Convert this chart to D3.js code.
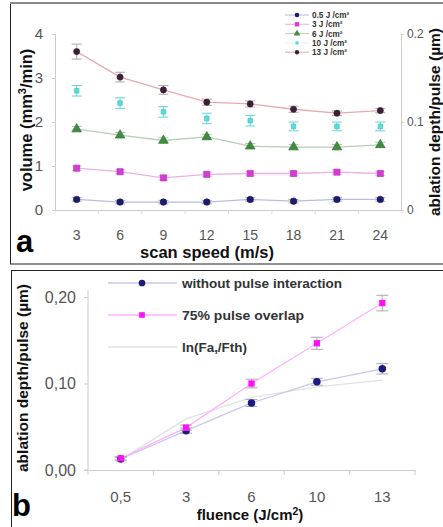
<!DOCTYPE html>
<html><head><meta charset="utf-8">
<script src="https://cdn.jsdelivr.net/npm/d3@7"></script>
<style>body{margin:0;background:#fff}svg{display:block}text{font-family:Arial,"Liberation Sans",Helvetica,sans-serif}</style>
</head><body><svg id="c" width="443" height="527"></svg>
<script>
// ---------- Panel a data ----------
const speeds = [3, 6, 9, 12, 15, 18, 21, 24];
const seriesA = ["0.5 J /cm²", "3 J /cm²", "6 J /cm²", "10 J /cm²", "13 J /cm²"];
const vol05 = [0.24, 0.18, 0.18, 0.18, 0.24, 0.2, 0.24, 0.24];
const vol3  = [0.95, 0.87, 0.73, 0.81, 0.83, 0.83, 0.86, 0.83];
const vol6  = [1.84, 1.70, 1.58, 1.66, 1.45, 1.43, 1.43, 1.48];
const vol10 = [2.71, 2.43, 2.23, 2.08, 2.03, 1.90, 1.90, 1.90];
const vol13 = [3.60, 3.02, 2.73, 2.45, 2.41, 2.29, 2.20, 2.26];
const err05 = [0.04, 0.04, 0.04, 0.04, 0.04, 0.04, 0.04, 0.04];
const err3  = [0.05, 0.05, 0.05, 0.05, 0.05, 0.05, 0.05, 0.05];
const err6  = [0.06, 0.06, 0.06, 0.06, 0.06, 0.06, 0.06, 0.06];
const err10 = [0.12, 0.12, 0.12, 0.12, 0.12, 0.10, 0.10, 0.10];
const err13 = [0.17, 0.11, 0.10, 0.07, 0.07, 0.07, 0.05, 0.05];
const leftTicksA = [0, 1, 2, 3, 4];
const rightTicksA = [0, 0.1, 0.2];
const rightTickLabelsA = ["0", "0.1", "0.2"];

// ---------- Panel b data ----------
const fluences = ["0,5", "3", "6", "10", "13"];
const seriesB = ["without pulse interaction", "75% pulse overlap", "ln(Fa,/Fth)"];
const depthNo = [0.0127, 0.0455, 0.0775, 0.102, 0.117];
const depth75 = [0.0135, 0.049, 0.100, 0.1465, 0.193];
const depthLn = [0.012, 0.059, 0.084, 0.096, 0.104];
const errNo = [0.002, 0.003, 0.004, 0.004, 0.006];
const err75 = [0.002, 0.003, 0.005, 0.007, 0.009];
const ticksB = [0, 0.1, 0.2];
const tickLabelsB = ["0,00", "0,10", "0,20"];

const svg = d3.select("#c");

// ---------- frames ----------
svg.append("rect").attr("x", 10.5).attr("y", 3.5).attr("width", 440).attr("height", 260.5)
  .attr("fill", "none").attr("stroke", "#222").attr("stroke-width", 1);
svg.append("line").attr("x1", 10).attr("x2", 443).attr("y1", 3).attr("y2", 3).attr("stroke", "#888").attr("stroke-width", 2);
svg.append("rect").attr("x", 11.5).attr("y", 270.5).attr("width", 440).attr("height", 270)
  .attr("fill", "none").attr("stroke", "#222").attr("stroke-width", 1);

// ================= Panel a =================
const xa = d3.scaleBand().domain(speeds).range([55, 402]);
const ya = d3.scaleLinear().domain([0, 4]).range([210, 34]);
const yaR = d3.scaleLinear().domain([0, 0.2]).range([210, 34]);
const ga = svg.append("g");

const axL = ga.append("g").attr("transform", "translate(55,0)")
  .call(d3.axisLeft(ya).tickValues(leftTicksA).tickSize(3).tickPadding(9).tickFormat(d3.format("d")));
const axR = ga.append("g").attr("transform", "translate(401,0)")
  .call(d3.axisRight(yaR).tickValues(rightTicksA).tickSize(3).tickPadding(3)
  .tickFormat((d, i) => rightTickLabelsA[i]));
const axB = ga.append("g").attr("transform", "translate(0,210)")
  .call(d3.axisBottom(xa).tickSize(0).tickPadding(20));
ga.append("g").selectAll("line").data(speeds.concat(["end"])).join("line")
  .attr("x1", (d, i) => 55 + i * xa.step()).attr("x2", (d, i) => 55 + i * xa.step())
  .attr("y1", 210).attr("y2", 214).attr("stroke", "#ddd");
[axL, axR, axB].forEach(a => {
  a.select(".domain").attr("stroke", "#ccc");
  a.selectAll(".tick line").attr("stroke", "#ccc");
});
axL.selectAll("text").attr("font-size", 15).attr("fill", "#555");
axR.selectAll("text").attr("font-size", 12).attr("fill", "#555");
axB.selectAll("text").attr("font-size", 14).attr("fill", "#555");

const cfgA = [
  { name: seriesA[0], v: vol05, e: err05, line: "#b8bce0", fill: "#1c1c6c", shape: d3.symbolCircle, size: 34, eb: "#aaa" },
  { name: seriesA[1], v: vol3,  e: err3,  line: "#eab0ea", fill: "#d83ad8", shape: d3.symbolSquare, size: 38, eb: "#ccc" },
  { name: seriesA[2], v: vol6,  e: err6,  line: "#b8ccb8", fill: "#3e8e3e", shape: d3.symbolTriangle, size: 40, eb: "#bbb" },
  { name: seriesA[3], v: vol10, e: err10, line: "none",    fill: "#50e0e0", shape: d3.symbolSquare, size: 20, eb: "#60d8d8" },
  { name: seriesA[4], v: vol13, e: err13, line: "#e8a8b0", fill: "#3c2038", shape: d3.symbolCircle, size: 30, eb: "#aaa" }
];

cfgA.forEach(s => {
  const pts = speeds.map((sp, i) => ({ x: xa(sp) + xa.bandwidth() / 2, v: s.v[i], e: s.e[i] }));
  if (s.line !== "none") {
    ga.append("path").datum(pts).attr("fill", "none").attr("stroke", s.line).attr("stroke-width", 1.3)
      .attr("d", d3.line().x(d => d.x).y(d => ya(d.v)));
  }
  const eg = ga.append("g").attr("stroke", s.eb).attr("stroke-width", 1);
  eg.selectAll(".v").data(pts).join("line")
    .attr("x1", d => d.x).attr("x2", d => d.x).attr("y1", d => ya(d.v - d.e)).attr("y2", d => ya(d.v + d.e));
  eg.selectAll(".t").data(pts).join("line")
    .attr("x1", d => d.x - 5).attr("x2", d => d.x + 5).attr("y1", d => ya(d.v + d.e)).attr("y2", d => ya(d.v + d.e));
  eg.selectAll(".b").data(pts).join("line")
    .attr("x1", d => d.x - 5).attr("x2", d => d.x + 5).attr("y1", d => ya(d.v - d.e)).attr("y2", d => ya(d.v - d.e));
  ga.append("g").selectAll("path").data(pts).join("path")
    .attr("transform", d => `translate(${d.x},${ya(d.v)})`)
    .attr("d", d3.symbol().type(s.shape).size(s.size))
    .attr("fill", s.fill).attr("stroke", d3.color(s.fill).darker(0.6)).attr("stroke-width", 0.6);
});

// legend a
const lga = ga.append("g");
cfgA.forEach((s, i) => {
  const y = 15 + i * 9.3;
  lga.append("line").attr("x1", 285).attr("x2", 309).attr("y1", y).attr("y2", y)
    .attr("stroke", s.line === "none" ? "#d8f4f4" : s.line).attr("stroke-width", 1);
  lga.append("path").attr("transform", `translate(297,${y})`)
    .attr("d", d3.symbol().type(s.shape).size(s.size * 0.5)).attr("fill", s.fill);
  lga.append("text").attr("x", 312).attr("y", y + 3).attr("font-size", 8.2).attr("font-weight", "bold")
    .attr("font-family", "'Liberation Serif','DejaVu Serif',serif").attr("fill", "#333").text(s.name);
});

// titles a
ga.append("text").attr("transform", "translate(32,120) rotate(-90)").attr("text-anchor", "middle")
  .attr("font-size", 16.5).attr("font-weight", "bold").attr("fill", "#111")
  .html("volume (mm<tspan font-size='11' dy='-6'>3</tspan><tspan dy='6'>/min)</tspan>");
ga.append("text").attr("transform", "translate(440,122) rotate(-90)").attr("text-anchor", "middle")
  .attr("font-size", 15.5).attr("font-weight", "bold").attr("fill", "#111").text("ablation depth/pulse (µm)");
ga.append("text").attr("x", 207).attr("y", 258).attr("text-anchor", "middle")
  .attr("font-size", 16.5).attr("font-weight", "bold").attr("fill", "#111").text("scan speed (m/s)");
ga.append("text").attr("x", 16).attr("y", 252).attr("font-size", 31).attr("font-weight", "bold").attr("fill", "#000").text("a");

// ================= Panel b =================
const xb = d3.scaleBand().domain(fluences).range([88, 415]);
const yb = d3.scaleLinear().domain([0, 0.2]).range([470, 297]);
const gb = svg.append("g");

const bL = gb.append("g").attr("transform", "translate(88,0)")
  .call(d3.axisLeft(yb).tickValues(ticksB).tickSize(4).tickPadding(8).tickFormat((d, i) => tickLabelsB[i]));
bL.select(".domain").attr("d", "M-4,470H0V290");
const bB = gb.append("g").attr("transform", "translate(0,470)")
  .call(d3.axisBottom(xb).tickSize(0).tickPadding(21));
gb.append("g").selectAll("line").data(fluences.concat(["end"])).join("line")
  .attr("x1", (d, i) => 88 + i * xb.step()).attr("x2", (d, i) => 88 + i * xb.step())
  .attr("y1", 470).attr("y2", 475).attr("stroke", "#ccc");
[bL, bB].forEach(a => {
  a.select(".domain").attr("stroke", "#ccc");
  a.selectAll(".tick line").attr("stroke", "#ccc");
});
bL.selectAll("text").attr("font-size", 16).attr("fill", "#555");
bB.selectAll("text").attr("font-size", 15).attr("fill", "#555");

const cfgB = [
  { name: seriesB[2], v: depthLn, e: null,  line: "#e2e2e2", fill: null },
  { name: seriesB[0], v: depthNo, e: errNo, line: "#c8c8ea", fill: "#1a1a80", shape: d3.symbolCircle, size: 44 },
  { name: seriesB[1], v: depth75, e: err75, line: "#ffb0ff", fill: "#ff10ff", shape: d3.symbolSquare, size: 40 }
];
cfgB.forEach(s => {
  const pts = fluences.map((f, i) => ({ x: xb(f) + xb.bandwidth() / 2, v: s.v[i], e: s.e ? s.e[i] : 0 }));
  gb.append("path").datum(pts).attr("fill", "none").attr("stroke", s.line).attr("stroke-width", 1.3)
    .attr("d", d3.line().x(d => d.x).y(d => yb(d.v)));
  if (s.e) {
    const eg = gb.append("g").attr("stroke", "#aaa").attr("stroke-width", 1);
    eg.selectAll(".v").data(pts).join("line")
      .attr("x1", d => d.x).attr("x2", d => d.x).attr("y1", d => yb(d.v - d.e)).attr("y2", d => yb(d.v + d.e));
    eg.selectAll(".t").data(pts).join("line")
      .attr("x1", d => d.x - 6).attr("x2", d => d.x + 6).attr("y1", d => yb(d.v + d.e)).attr("y2", d => yb(d.v + d.e));
    eg.selectAll(".b").data(pts).join("line")
      .attr("x1", d => d.x - 6).attr("x2", d => d.x + 6).attr("y1", d => yb(d.v - d.e)).attr("y2", d => yb(d.v - d.e));
    gb.append("g").selectAll("path").data(pts).join("path")
      .attr("transform", d => `translate(${d.x},${yb(d.v)})`)
      .attr("d", d3.symbol().type(s.shape).size(s.size)).attr("fill", s.fill);
  }
});

// legend b
const legB = [cfgB[1], cfgB[2], cfgB[0]];
const legLen = [160, 122, 65];
legB.forEach((s, i) => {
  const y = 283 + i * 32;
  gb.append("line").attr("x1", 108).attr("x2", 177).attr("y1", y).attr("y2", y).attr("stroke", s.line).attr("stroke-width", 1.3);
  if (s.fill) gb.append("path").attr("transform", `translate(142,${y})`)
    .attr("d", d3.symbol().type(s.shape).size(s.size * 0.8)).attr("fill", s.fill);
  gb.append("text").attr("x", 182).attr("y", y + 4.5).attr("font-size", 12.5).attr("font-weight", "bold")
    .attr("fill", "#333").attr("textLength", legLen[i]).attr("lengthAdjust", "spacingAndGlyphs").text(s.name);
});

gb.append("text").attr("transform", "translate(28,378) rotate(-90)").attr("text-anchor", "middle")
  .attr("font-size", 15.5).attr("font-weight", "bold").attr("fill", "#111").text("ablation depth/pulse (µm)");
gb.append("text").attr("x", 250).attr("y", 520).attr("text-anchor", "middle")
  .attr("font-size", 15).attr("font-weight", "bold").attr("fill", "#111")
  .html("fluence (J/cm<tspan font-size='10.5' dy='-5'>2</tspan><tspan dy='5'>)</tspan>");
gb.append("text").attr("x", 12).attr("y", 516).attr("font-size", 31).attr("font-weight", "bold").attr("fill", "#000").text("b");
</script></body></html>
